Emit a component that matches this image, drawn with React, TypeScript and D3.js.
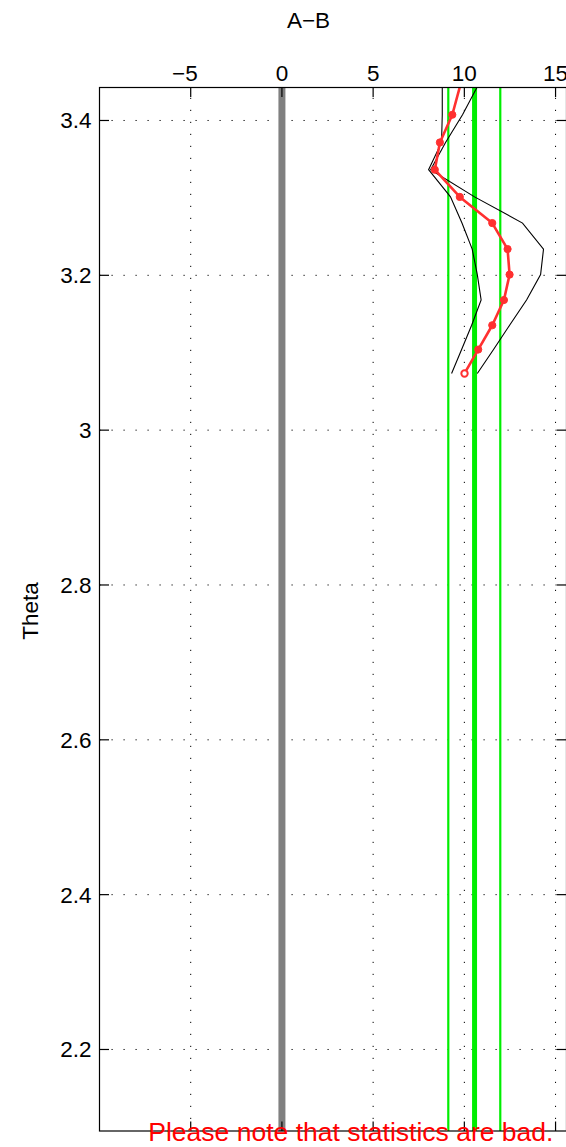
import React from "react";
import * as d3 from "d3";

// ---- data ----
const thetaLevels = [3.444, 3.4074, 3.3716, 3.3364, 3.3013, 3.2675, 3.2339, 3.2009, 3.1681, 3.1355, 3.1041, 3.0732];
const meanDiff = [9.76, 9.34, 8.66, 8.38, 9.75, 11.53, 12.37, 12.48, 12.17, 11.53, 10.76, 10.01];
const lowerBound = [8.79, 8.79, 8.75, 8.04, 9.24, 9.87, 10.43, 10.71, 10.92, 10.4, 9.85, 9.3];
const upperBound = [10.72, 9.9, 8.97, 8.15, 10.56, 13.19, 14.34, 14.18, 13.41, 12.48, 11.6, 10.71];
const statLines = [9.12, 10.56, 11.97];
const statWidths = [2.2, 5, 2.2];
const zeroLine = 0;
const xTicks = [-5, 0, 5, 10, 15];
const yTicks = [2.2, 2.4, 2.6, 2.8, 3.0, 3.2, 3.4];
const xDomain = [-10, 15.6];
const yDomain = [2.0947, 3.4426];

const W = 566;
const H = 1147;
const L = 99.5, R = 566.5, T = 87.5, B = 1131;
const FONT = "'Liberation Sans', Arial, Helvetica, sans-serif";

export default function App() {
  const x = d3.scaleLinear().domain(xDomain).range([L, R]);
  const y = d3.scaleLinear().domain(yDomain).range([B, T]);

  const line = d3
    .line<[number, number]>()
    .x((d) => x(d[0]))
    .y((d) => y(d[1]));

  const redPts: [number, number][] = meanDiff.map((v, i) => [v, thetaLevels[i]]);
  const lowPts: [number, number][] = lowerBound.map((v, i) => [v, thetaLevels[i]]);
  const upPts: [number, number][] = upperBound.map((v, i) => [v, thetaLevels[i]]);

  const tick = 9.5;
  const red = "#ff3030";

  return (
    <svg
      width={W}
      height={H}
      style={{ position: "absolute", left: 0, top: 0, background: "#fff" }}
      fontFamily={FONT}
    >
      <defs>
        <clipPath id="plotclip">
          <rect x={L} y={T} width={R - L} height={B - T} />
        </clipPath>
      </defs>
      <rect x={0} y={0} width={W} height={H} fill="#fff" />

      {/* grid */}
      <g stroke="#000" strokeWidth={1} strokeDasharray="1.2,10.8" fill="none">
        {xTicks.map((v) => (
          <line key={"gx" + v} x1={x(v)} x2={x(v)} y1={B} y2={T} />
        ))}
        {yTicks.map((v) => (
          <line key={"gy" + v} x1={L} x2={R} y1={y(v)} y2={y(v)} />
        ))}
      </g>

      <g clipPath="url(#plotclip)">
        {/* zero line */}
        <line x1={x(zeroLine)} x2={x(zeroLine)} y1={T} y2={B} stroke="#808080" strokeWidth={7} />
        {/* stat lines */}
        {statLines.map((v, i) => (
          <line key={"s" + i} x1={x(v)} x2={x(v)} y1={T} y2={B} stroke="#00ee00" strokeWidth={statWidths[i]} />
        ))}
        {/* envelope */}
        <path d={line(lowPts) || ""} fill="none" stroke="#000" strokeWidth={1.1} />
        <path d={line(upPts) || ""} fill="none" stroke="#000" strokeWidth={1.1} />
        {/* red mean */}
        <path d={line(redPts) || ""} fill="none" stroke={red} strokeWidth={2.6} strokeLinejoin="round" />
        {redPts.map((p, i) =>
          y(p[1]) < T ? null : (
            <circle
              key={"m" + i}
              cx={x(p[0])}
              cy={y(p[1])}
              r={i === redPts.length - 1 ? 3.2 : 3.6}
              fill={i === redPts.length - 1 ? "#fff" : red}
              stroke={red}
              strokeWidth={i === redPts.length - 1 ? 2 : 1}
            />
          )
        )}
      </g>

      {/* axes box */}
      <rect x={L} y={T} width={R - L} height={B - T} fill="none" stroke="#000" strokeWidth={1.2} />
      <g stroke="#000" strokeWidth={1.2}>
        {xTicks.map((v) => (
          <g key={"tx" + v}>
            <line x1={x(v)} x2={x(v)} y1={T} y2={T + tick} />
            <line x1={x(v)} x2={x(v)} y1={B} y2={B - tick} />
          </g>
        ))}
        {yTicks.map((v) => (
          <g key={"ty" + v}>
            <line x1={L} x2={L + tick} y1={y(v)} y2={y(v)} />
            <line x1={R} x2={R - tick} y1={y(v)} y2={y(v)} />
          </g>
        ))}
      </g>

      {/* tick labels */}
      <g fontSize={22.5} fill="#000">
        {xTicks.map((v) => (
          <text
            key={"lx" + v}
            x={v < 0 ? x(v) + 7 : x(v)}
            y={81}
            textAnchor={v < 0 ? "end" : "middle"}
          >
            {v < 0 ? "\u2212" + Math.abs(v) : String(v)}
          </text>
        ))}
        {yTicks.map((v) => (
          <text key={"ly" + v} x={91.5} y={y(v) + 8} textAnchor="end">
            {v === 3 ? "3" : v.toFixed(1)}
          </text>
        ))}
      </g>

      {/* title & axis label */}
      <text x={308.5} y={27.5} fontSize={22.5} textAnchor="middle" fill="#000">
        A{"\u2212"}B
      </text>
      <text
        transform={`translate(37.5, 611) rotate(-90)`}
        fontSize={22.5}
        textAnchor="middle"
        fill="#000"
      >
        Theta
      </text>

      {/* note */}
      <text x={148.3} y={1141} fontSize={26.5} fill="#ff0000">
        Please note that statistics are bad.
      </text>
    </svg>
  );
}
